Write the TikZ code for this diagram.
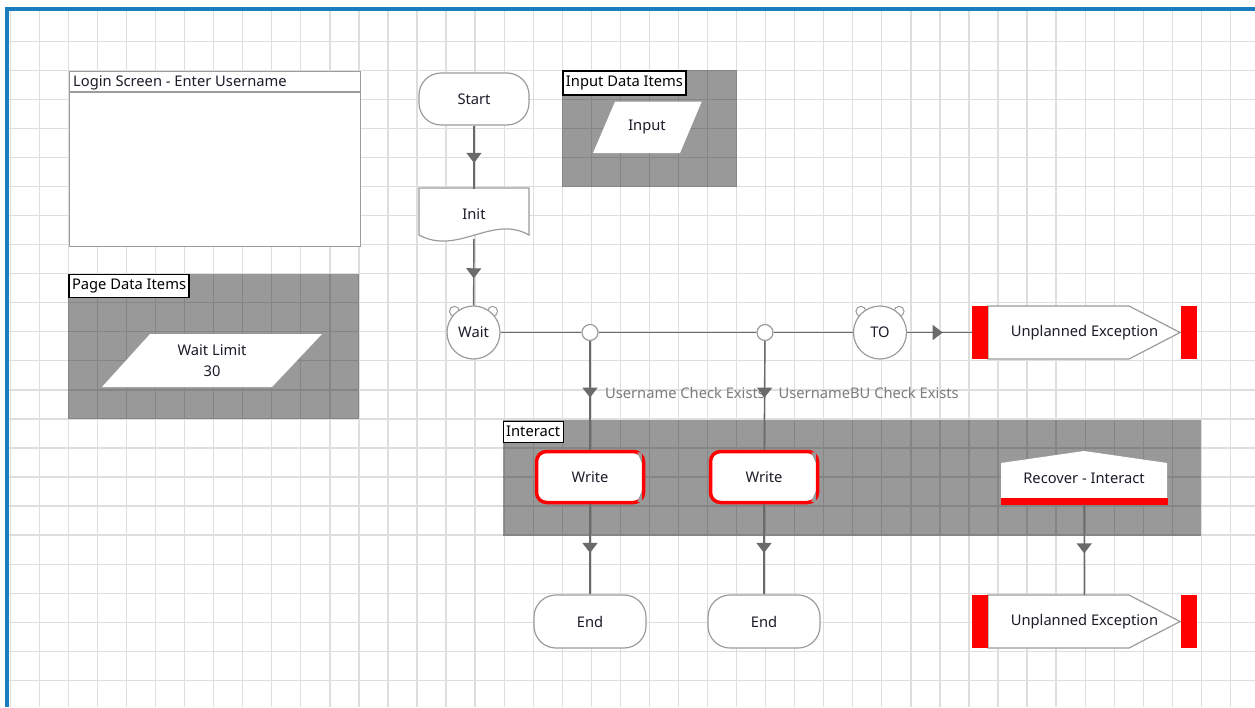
\documentclass[tikz,border=0pt]{standalone}
\usepackage{fontspec}
\setmainfont{Noto Sans}
\usetikzlibrary{arrows.meta,positioning,calc,shapes.geometric,decorations.markings}
\definecolor{frame}{HTML}{1A7DC0}
\definecolor{gridgrey}{HTML}{DEDEDE}
\definecolor{wire}{HTML}{6A6A6A}
\definecolor{outline}{HTML}{9C9C9C}
\definecolor{ink}{HTML}{1C1C2A}
\definecolor{alert}{HTML}{FF0000}
\definecolor{faded}{HTML}{7C7C7C}

\begin{document}
\begin{tikzpicture}[x=1pt,y=-1pt,font=\fontsize{14.7}{17}\selectfont,
  gridline/.style={draw=gridgrey,line width=1.3pt},
  block/.style={fill=black,fill opacity=0.4},
  tag/.style={draw=black,fill=white,line width=1.3pt,anchor=north west,inner xsep=3pt,inner ysep=0pt,minimum height=23pt,text=black},
  terminal/.style={draw=outline,fill=white,line width=1.2pt,rounded corners=22pt,minimum width=110pt,minimum height=52pt,text=ink},
  shapeline/.style={draw=outline,fill=white,line width=1.2pt},
  stopwatch/.style={circle,draw=outline,fill=white,line width=1.2pt,minimum size=53pt,inner sep=0pt,text=ink},
  ear/.style={draw=outline,fill=white,line width=1pt},
  junction/.style={circle,draw=outline,fill=white,line width=1.2pt,minimum size=16pt,inner sep=0pt},
  writebox/.style={draw=alert,fill=white,line width=3.5pt,rounded corners=10pt,minimum width=107pt,minimum height=51pt,text=ink},
  label/.style={text=ink,align=center},
  cond/.style={text=faded,anchor=west},
  wire/.style={draw=wire,line width=1.4pt},
  midarrow/.style={postaction={decorate},decoration={markings,mark=at position #1 with {\arrow{Triangle[width=15pt,length=10pt]}}}}
]
\useasboundingbox (0,0) rectangle (1255,707);
\fill[white] (0,0) rectangle (1255,707);

% background grid
\foreach \k in {0,...,43}
  \draw[gridline] ({10.3+29.05*\k},11) -- ({10.3+29.05*\k},707);
\foreach \k in {1,...,24}
  \draw[gridline] (9,{12.2+29.05*\k}) -- (1255,{12.2+29.05*\k});
\fill[frame] (5,7) rectangle (1255,11);
\fill[frame] (5,7) rectangle (9,707);

% grey blocks
\fill[block] (68.4,273.7) rectangle (358.9,418.9);
\fill[block] (562.3,70.3) rectangle (736.5,186.5);
\fill[block] (502.5,419.5) rectangle (1201.4,535.5);
\node[tag] (pagetag) at (68.4,273.7) {Page Data Items};
\node[tag,minimum height=24pt] (inputtag) at (562.3,70.3) {Input Data Items};
\node[tag,minimum height=21pt] (interacttag) at (502.5,420.5) {Interact};

% application screen
\node[draw=outline,fill=white,line width=1.2pt,anchor=north west,minimum width=291pt,minimum height=175pt] (login) at (69,71) {};
\draw[outline,line width=1.2pt] ($(login.north west)+(0,21)$) -- ($(login.north east)+(0,21)$);
\node[anchor=west,inner xsep=4pt,text=ink] (logintitle) at ($(login.north west)+(0,11.5)$) {Login Screen - Enter Username};

% data items
\fill[white] (150,334) -- (322,334) -- (272,387) -- (102,387) -- cycle;
\node[label,font=\fontsize{14.7}{21}\selectfont] (waitlimit) at (212,360.5) {Wait Limit\\30};
\fill[white] (615,101.7) -- (701.7,101.7) -- (680,153) -- (593,153) -- cycle;
\node[label] (input) at (647,127.5) {Input};

% main flow
\node[terminal] (start) at (474,99) {Start};
\draw[shapeline] (419,188) -- (529,188) -- (529,235) .. controls (492,214) and (458,256) .. (419,235) -- cycle;
\node[label,minimum width=110pt,minimum height=50pt] (init) at (474,214) {Init};
\foreach \xx in {473.5,880}{
  \draw[ear] (\xx,332.5) ++(-132:28.5) circle (5);
  \draw[ear] (\xx,332.5) ++(-48:28.5) circle (5);
}
\node[stopwatch] (wait) at (473.5,332.5) {Wait};
\node[stopwatch] (timeout) at (880,332.5) {TO};
\node[junction] (j1) at (590,332.5) {};
\node[junction] (j2) at (765,332.5) {};

\foreach \nm/\yy in {ueTop/332.5,ueLow/621.5}{
  \draw[shapeline] (988,\yy-26.5) -- (1129,\yy-26.5) -- (1180,\yy) -- (1129,\yy+26.5) -- (988,\yy+26.5) -- cycle;
  \fill[alert] (972,\yy-26.5) rectangle (988,\yy+26.5);
  \fill[alert] (1181,\yy-26.5) rectangle (1197,\yy+26.5);
  \node[label,minimum width=225pt,minimum height=53pt] (\nm) at (1084.5,\yy) {Unplanned Exception};
}

\node[writebox] (w1) at (590,477) {Write};
\node[writebox] (w2) at (764,477) {Write};
\foreach \w in {w1,w2}{
  \fill[gray!80] ($(\w.north east)+(-8,2.5)$) -- ($(\w.north east)+(-3.5,2.5)$) -- ($(\w.north east)+(-3.5,13)$) -- cycle;
  \fill[gray!80] ($(\w.south east)+(-8,-2.5)$) -- ($(\w.south east)+(-3.5,-2.5)$) -- ($(\w.south east)+(-3.5,-13)$) -- cycle;
}
\fill[white] (1001,463) -- (1084,451) -- (1167,463) -- (1167,500) -- (1001,500) -- cycle;
\fill[alert] (1001,498) rectangle (1168,504.5);
\node[label,minimum width=166pt,minimum height=53pt] (rec) at (1084,478) {Recover - Interact};

\node[terminal,minimum width=112pt,minimum height=53pt] (end1) at (590,621.5) {End};
\node[terminal,minimum width=112pt,minimum height=53pt] (end2) at (764,621.5) {End};

% connectors
\draw[wire,midarrow=0.59] (start) -- (init);
\draw[wire,midarrow=0.59] (init) -- (wait);
\draw[wire] (wait) -- (j1);
\draw[wire] (j1) -- (j2);
\draw[wire] (j2) -- (timeout);
\draw[wire,midarrow=0.55] (timeout) -- (ueTop);
\draw[wire,midarrow=0.52] (j1) -- (w1) node[cond,pos=0.48,xshift=11pt] (chk1) {Username Check Exists};
\draw[wire,midarrow=0.52] (j2) -- (w2) node[cond,pos=0.48,xshift=10pt] (chk2) {UsernameBU Check Exists};
\draw[wire,midarrow=0.54] (w1) -- (end1);
\draw[wire,midarrow=0.54] (w2) -- (end2);
\draw[wire,midarrow=0.54] (rec) -- (ueLow);
\end{tikzpicture}
\end{document}
